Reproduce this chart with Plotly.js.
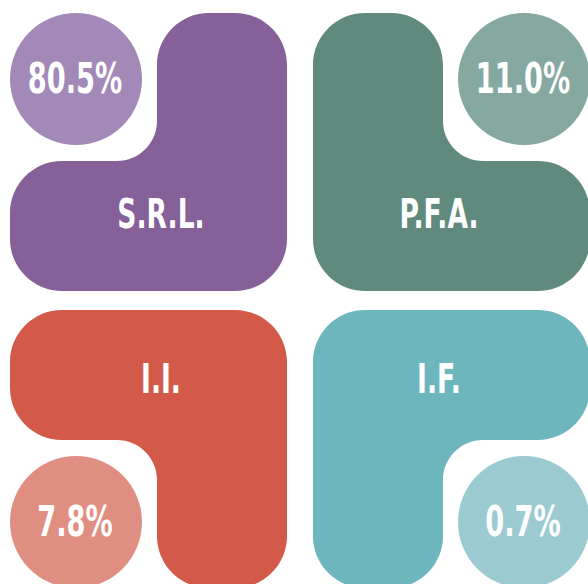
<!DOCTYPE html>
<html>
<head>
<meta charset="utf-8">
<script src="https://cdn.plot.ly/plotly-3.0.1.min.js"></script>
<style>html,body{margin:0;padding:0;background:#fff;}#chart{width:588px;height:584px;}</style>
</head>
<body>
<div id="chart"></div>
<script>
// ---- data ----
const categories = ['S.R.L.', 'P.F.A.', 'I.I.', 'I.F.'];
const shares = [80.5, 11.0, 7.8, 0.7];
const mainColors = ['#856099', '#618A7F', '#D35A48', '#6EB6BE'];
const lightColors = ['#A389B7', '#85A8A0', '#E18E82', '#9BCBD1'];

// ---- layout geometry (grid of 2x2 cells) ----
const colX = [10, 313];
const rowY = [13, 310];
const W = 277, H = 278;           // cell size
const NX = 147, NY = 148;         // notch size
const R = 52, RC = 40;            // outer / inner corner radii
const CD = 132;                   // circle diameter
const K = 0.5523;
// notch corner per cell: [mirrorX, mirrorY]
const mirrors = [[false, false], [true, false], [false, true], [true, true]];
const labelLocal = [151, 205];
const pctShift = 4;
const narrow = 0.72;              // horizontal squeeze to mimic a condensed face

function cellPath(i) {
  const ox = colX[i % 2], oy = rowY[Math.floor(i / 2)];
  const [mx, my] = mirrors[i];
  const T = (p) => [ox + (mx ? W - p[0] : p[0]), oy + (my ? H - p[1] : p[1])];
  let cur = [NX, R];
  const pts = (p) => { const q = T(p); return q[0].toFixed(2) + ',' + q[1].toFixed(2); };
  let d = 'M' + pts(cur);
  function arc(to, c) {
    const p1 = [cur[0] + K * (c[0] - cur[0]), cur[1] + K * (c[1] - cur[1])];
    const p2 = [to[0] + K * (c[0] - to[0]), to[1] + K * (c[1] - to[1])];
    d += ' C' + pts(p1) + ' ' + pts(p2) + ' ' + pts(to);
    cur = to;
  }
  function line(to) { d += ' L' + pts(to); cur = to; }
  arc([NX + R, 0], [NX, 0]);
  line([W - R, 0]);
  arc([W, R], [W, 0]);
  line([W, H - R]);
  arc([W - R, H], [W, H]);
  line([R, H]);
  arc([0, H - R], [0, H]);
  line([0, NY + R]);
  arc([R, NY], [0, NY]);
  line([NX - RC, NY]);
  arc([NX, NY - RC], [NX, NY]);
  line([NX, R]);
  d += ' Z';
  return d;
}

const shapes = [];
const labX = [], labY = [], pctX = [], pctY = [];
categories.forEach((c, i) => {
  const ox = colX[i % 2], oy = rowY[Math.floor(i / 2)];
  const [mx, my] = mirrors[i];
  shapes.push({type: 'path', xref: 'x', yref: 'y', path: cellPath(i),
    fillcolor: mainColors[i], line: {width: 0}, layer: 'below'});
  const cx0 = mx ? ox + W - CD : ox;
  const cy0 = my ? oy + H - CD : oy;
  shapes.push({type: 'circle', xref: 'x', yref: 'y', x0: cx0, x1: cx0 + CD, y0: cy0, y1: cy0 + CD,
    fillcolor: lightColors[i], line: {width: 0}, layer: 'below'});
  pctX.push(cx0 + CD / 2 - 1); pctY.push(cy0 + CD / 2 + pctShift);
  labX.push(ox + (mx ? W - labelLocal[0] : labelLocal[0]));
  labY.push(oy + (my ? H - labelLocal[1] : labelLocal[1]));
});

const FONT = '"DejaVu Sans Condensed", "DejaVu Sans", sans-serif';
const traces = [
  {type: 'scatter', mode: 'text', x: labX, y: labY, text: categories,
   textposition: 'middle center', hoverinfo: 'skip', showlegend: false,
   textfont: {family: FONT, size: 41, color: '#ffffff', weight: 'bold'}},
  {type: 'scatter', mode: 'text', x: pctX, y: pctY, text: shares.map(v => v.toFixed(1) + '%'),
   textposition: 'middle center', hoverinfo: 'skip', showlegend: false,
   textfont: {family: FONT, size: 42, color: '#ffffff', weight: 'bold'}}
];

const layout = {
  width: 588, height: 584,
  margin: {l: 0, r: 0, t: 0, b: 0},
  paper_bgcolor: '#ffffff', plot_bgcolor: '#ffffff',
  xaxis: {range: [0, 588], visible: false, fixedrange: true},
  yaxis: {range: [584, 0], visible: false, fixedrange: true},
  shapes: shapes,
  showlegend: false
};
Plotly.newPlot('chart', traces, layout, {displayModeBar: false, staticPlot: true}).then(gd => {
  gd.querySelectorAll('g.textpoint text').forEach(t => {
    const x = parseFloat(t.getAttribute('x')) || 0;
    const g = t.parentNode;
    const prev = g.getAttribute('transform') || '';
    g.setAttribute('transform',
      prev + ' translate(' + x + ',0) scale(' + narrow + ',1) translate(' + (-x) + ',0)');
  });
});
</script>
</body>
</html>
